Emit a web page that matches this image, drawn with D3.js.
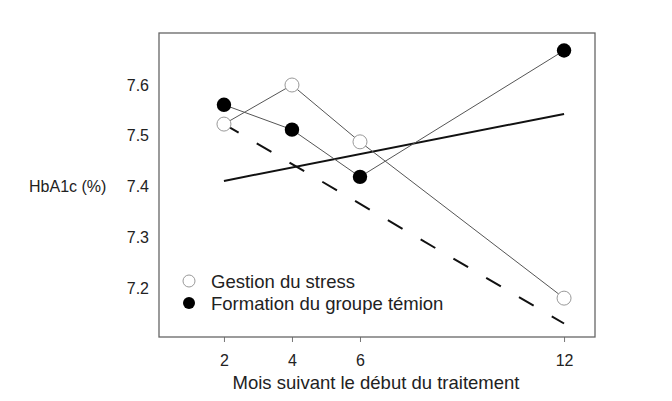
<!DOCTYPE html>
<html lang="fr">
<head>
<meta charset="UTF-8">
<title>HbA1c</title>
<style>
    body { margin: 0; background: #fff; }
    svg { font-family: "Liberation Sans", Arial, sans-serif; }
    .axis text { fill: #222; font-size: 16px; }
    .axis line { stroke: #777; }
    .axis path { display: none; }
</style>
</head>
<body>
<div id="chart"></div>
<script src="https://d3js.org/d3.v7.min.js"></script>
<script>

    // data
    var months = [2, 4, 6, 12];
    var stress = [7.523, 7.600, 7.488, 7.180];     // Gestion du stress (open)
    var control = [7.561, 7.512, 7.419, 7.668];    // Formation du groupe témoin (filled)
    var trendSolid = [[2, 7.411], [12, 7.543]];
    var trendDashed = [[2, 7.523], [12, 7.130]];
    var yTicks = [7.2, 7.3, 7.4, 7.5, 7.6];
    var legendLabels = ["Gestion du stress", "Formation du groupe témion"];

    var width = 672, height = 401;
    var box = {left: 159, right: 595, top: 33, bottom: 337};

    var svg = d3.select("#chart").append("svg")
        .attr("width", width)
        .attr("height", height);

    var x = d3.scaleLinear()
        .domain([0.09, 12.91])
        .range([box.left, box.right]);

    var y = d3.scaleLinear()
        .domain([7.1034, 7.7025])
        .range([box.bottom, box.top]);

    // axes
    svg.append("g")
        .attr("class", "axis")
        .attr("transform", "translate(0," + box.bottom + ")")
        .call(d3.axisBottom(x).tickValues(months).tickSize(5).tickPadding(13));

    svg.append("g")
        .attr("class", "axis")
        .attr("transform", "translate(" + box.left + ",0)")
        .call(d3.axisLeft(y).tickValues(yTicks).tickSize(0).tickPadding(10)
            .tickFormat(d3.format(".1f")));

    // frame
    svg.append("rect")
        .attr("x", box.left)
        .attr("y", box.top)
        .attr("width", box.right - box.left)
        .attr("height", box.bottom - box.top)
        .attr("fill", "none")
        .attr("stroke", "#666")
        .attr("stroke-width", 1.3);

    var line = d3.line()
        .x(function(d) { return x(d[0]); })
        .y(function(d) { return y(d[1]); });

    // trend lines
    svg.append("path")
        .attr("d", line(trendSolid))
        .attr("fill", "none")
        .attr("stroke", "#111")
        .attr("stroke-width", 2);

    svg.append("path")
        .attr("d", line(trendDashed))
        .attr("fill", "none")
        .attr("stroke", "#111")
        .attr("stroke-width", 2)
        .attr("stroke-dasharray", "17,21");

    // series lines
    var stressPts = months.map(function(m, i) { return [m, stress[i]]; });
    var controlPts = months.map(function(m, i) { return [m, control[i]]; });

    [stressPts, controlPts].forEach(function(pts) {
        svg.append("path")
            .attr("d", line(pts))
            .attr("fill", "none")
            .attr("stroke", "#555")
            .attr("stroke-width", 1);
    });

    // points
    svg.selectAll(".stress")
        .data(stressPts)
        .enter().append("circle")
        .attr("class", "stress")
        .attr("cx", function(d) { return x(d[0]); })
        .attr("cy", function(d) { return y(d[1]); })
        .attr("r", 7)
        .attr("fill", "#fff")
        .attr("stroke", "#999")
        .attr("stroke-width", 1);

    svg.selectAll(".control")
        .data(controlPts)
        .enter().append("circle")
        .attr("class", "control")
        .attr("cx", function(d) { return x(d[0]); })
        .attr("cy", function(d) { return y(d[1]); })
        .attr("r", 7.2)
        .attr("fill", "#000");

    // legend
    var legend = svg.append("g").attr("transform", "translate(189,281)");
    legendLabels.forEach(function(label, i) {
        var g = legend.append("g").attr("transform", "translate(0," + (i * 22) + ")");
        g.append("circle")
            .attr("r", 6)
            .attr("fill", i === 0 ? "#fff" : "#000")
            .attr("stroke", i === 0 ? "#999" : "none");
        g.append("text")
            .attr("x", 22)
            .attr("dy", "0.36em")
            .attr("font-size", 18.5)
            .attr("fill", "#222")
            .text(label);
    });

    // axis titles
    svg.append("text")
        .attr("x", 376)
        .attr("y", 389)
        .attr("text-anchor", "middle")
        .attr("font-size", 18.5)
        .attr("fill", "#222")
        .text("Mois suivant le début du traitement");

    svg.append("text")
        .attr("x", 29)
        .attr("y", y(7.4))
        .attr("dy", "0.36em")
        .attr("font-size", 16)
        .attr("fill", "#222")
        .text("HbA1c (%)");

</script>
</body>
</html>
